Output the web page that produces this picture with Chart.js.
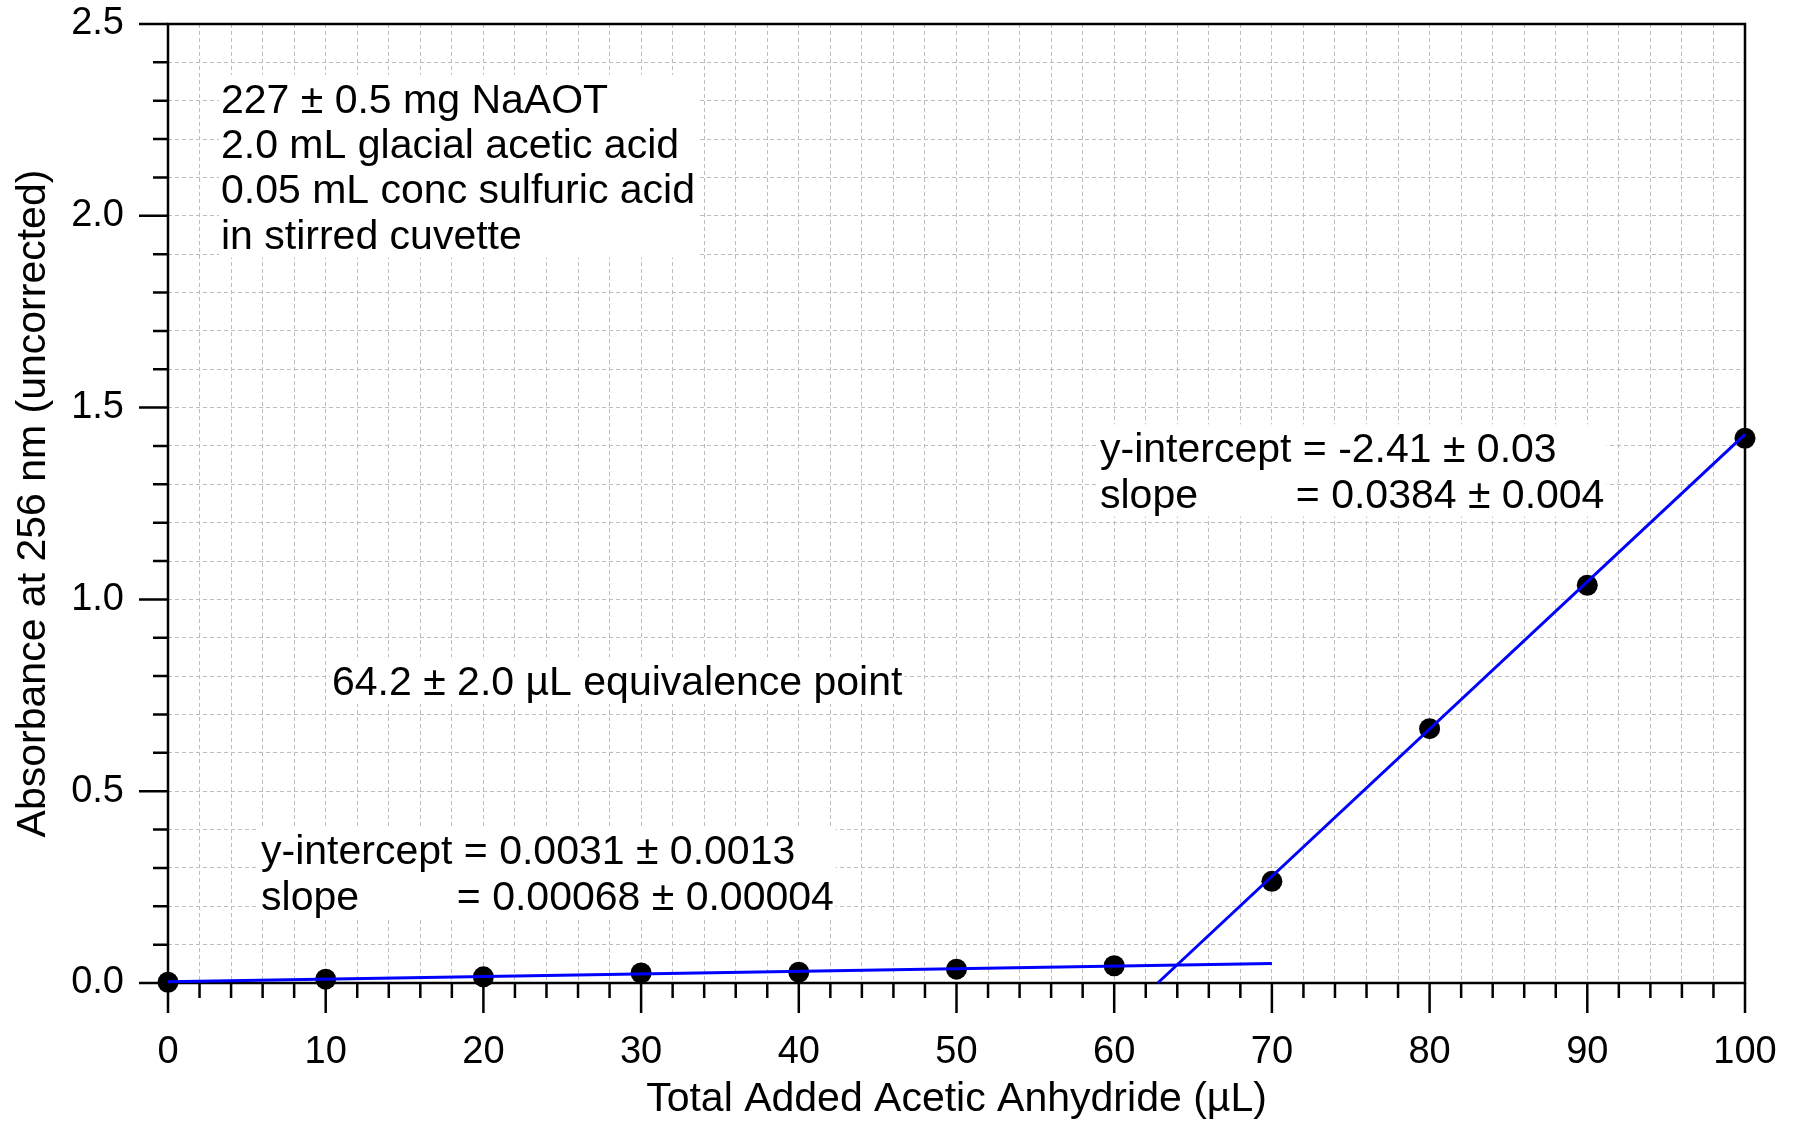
<!DOCTYPE html>
<html>
<head>
<meta charset="utf-8">
<script src="https://cdn.jsdelivr.net/npm/chart.js@4.4.1/dist/chart.umd.min.js"></script>
<style>
html,body{margin:0;padding:0;background:#fff;}
#wrap{width:1802px;height:1121px;position:relative;}
canvas{display:block;}
</style>
</head>
<body>
<div id="wrap"><canvas id="c" width="1802" height="1121"></canvas></div>
<script>
// ---- data ----
const volumes = [0, 10, 20, 30, 40, 50, 60, 70, 80, 90, 100];
const absorbances = [0.002, 0.010, 0.016, 0.026, 0.028, 0.036, 0.045, 0.265, 0.663, 1.037, 1.420];

// linear fits as printed on the chart: [intercept, slope]
const lowFitParams = [0.0031, 0.00068];
const highFitParams = [-2.41, 0.0384];
const lowFitRange = [0, 70];
const highFitEnd = 100;

const xTitle = "Total Added Acetic Anhydride (µL)";
const yTitle = "Absorbance at 256 nm (uncorrected)";

const sampleNotes = ["227 ± 0.5 mg NaAOT", "2.0 mL glacial acetic acid", "0.05 mL conc sulfuric acid", "in stirred cuvette"];
const equivalenceNote = ["64.2 ± 2.0 µL equivalence point"];
const lowFitNote = [["y-intercept", "= 0.0031 ± 0.0013"], ["slope", "= 0.00068 ± 0.00004"]];
const highFitNote = [["y-intercept", "= -2.41 ± 0.03"], ["slope", "= 0.0384 ± 0.004"]];

// ---- derived fit line points ----
const lowFitLine = lowFitRange.map(x => ({x: x, y: lowFitParams[0] + lowFitParams[1] * x}));
const highStart = -highFitParams[0] / highFitParams[1];
const highFitLine = [highStart, highFitEnd].map(x => ({x: x, y: highFitParams[0] + highFitParams[1] * x}));
const points = volumes.map((v, i) => ({x: v, y: absorbances[i]}));

const FONT = '"Liberation Sans", Arial, Helvetica, sans-serif';
const NOTE_SIZE = 41;

// annotations anchored in data coordinates
const notes = [
  {lines: sampleNotes.map(s => [s]), x: 3.36, y: 2.269, lh: 45.3},
  {lines: equivalenceNote.map(s => [s]), x: 10.4, y: 0.751, lh: 45},
  {lines: lowFitNote, x: 5.9, y: 0.309, lh: 45.8},
  {lines: highFitNote, x: 59.1, y: 1.358, lh: 45.5}
];

const annotationPlugin = {
  id: 'annot',
  beforeDatasetsDraw(chart) {
    const ctx = chart.ctx;
    const xs = chart.scales.x, ys = chart.scales.y;
    ctx.save();
    ctx.font = NOTE_SIZE + 'px ' + FONT;
    ctx.textBaseline = 'alphabetic';
    ctx.textAlign = 'left';
    notes.forEach(n => {
      const x0 = xs.getPixelForValue(n.x);
      const y0 = ys.getPixelForValue(n.y);
      // tab stop for the second column of the fit notes
      const tab = n.lines[0].length > 1 ? ctx.measureText(n.lines[0][0] + ' ').width - 7 : 0;
      let maxW = 0;
      n.lines.forEach((l, i) => {
        const w = l.length > 1 ? (i === 0 ? ctx.measureText(l[0] + ' ' + l[1]).width : tab + ctx.measureText(l[1]).width) : ctx.measureText(l[0]).width;
        maxW = Math.max(maxW, w);
      });
      const top = y0 - NOTE_SIZE * 0.92;
      const bottom = y0 + (n.lines.length - 1) * n.lh + NOTE_SIZE * 0.22;
      ctx.fillStyle = '#ffffff';
      ctx.fillRect(x0 - 2, top, maxW + 4, bottom - top);
      ctx.fillStyle = '#000000';
      n.lines.forEach((l, i) => {
        const y = y0 + i * n.lh;
        if (l.length > 1 && i === 0) {
          ctx.fillText(l[0] + ' ' + l[1], x0, y);
        } else {
          ctx.fillText(l[0], x0, y);
          if (l.length > 1) ctx.fillText(l[1], x0 + tab, y);
        }
      });
    });
    // frame + ticks
    const a = chart.chartArea;
    ctx.strokeStyle = '#000';
    ctx.lineWidth = 2.5;
    ctx.lineCap = 'butt';
    ctx.beginPath();
    ctx.rect(a.left, a.top, a.right - a.left, a.bottom - a.top);
    ctx.stroke();
    ctx.beginPath();
    xs.ticks.forEach(t => {
      const v = Math.round(t.value * 100) / 100;
      const px = xs.getPixelForValue(t.value);
      const len = (Math.round(v) % 10 === 0) ? 30 : 15;
      ctx.moveTo(px, a.bottom);
      ctx.lineTo(px, a.bottom + len);
    });
    ys.ticks.forEach(t => {
      const v = Math.round(t.value * 10);
      const py = ys.getPixelForValue(t.value);
      const len = (v % 5 === 0) ? 29 : 15;
      ctx.moveTo(a.left, py);
      ctx.lineTo(a.left - len, py);
    });
    ctx.stroke();
    ctx.restore();
  }
};

function zeroPad(s) { s.paddingTop = 0; s.paddingBottom = 0; s.paddingLeft = 0; s.paddingRight = 0; }

new Chart(document.getElementById('c'), {
  type: 'scatter',
  data: {
    datasets: [
      {data: lowFitLine, showLine: true, borderColor: '#0000ff', borderWidth: 3, pointRadius: 0, order: 0, clip: false},
      {data: highFitLine, showLine: true, borderColor: '#0000ff', borderWidth: 3, pointRadius: 0, order: 0, clip: false},
      {data: points, pointRadius: 10.5, pointBackgroundColor: '#000', pointBorderWidth: 0, pointBorderColor: '#000', order: 1, clip: false}
    ]
  },
  options: {
    responsive: false,
    animation: false,
    devicePixelRatio: 1,
    layout: {padding: {top: 24, right: 57, left: 0, bottom: 0}},
    plugins: {legend: {display: false}, tooltip: {enabled: false}},
    scales: {
      x: {
        type: 'linear', min: 0, max: 100,
        afterFit: s => { s.height = 138; zeroPad(s); },
        ticks: {
          stepSize: 2, autoSkip: false, maxRotation: 0, padding: 47,
          color: '#000', font: {family: FONT, size: 38},
          callback: v => (Math.round(v) % 10 === 0 ? String(Math.round(v)) : '')
        },
        grid: {color: '#bdbdbd', lineWidth: 1, drawTicks: false},
        border: {display: false, dash: [4, 3]},
        title: {display: true, text: xTitle, color: '#000', font: {family: FONT, size: 41, lineHeight: 1.05}, padding: {top: 0, bottom: 0}}
      },
      y: {
        type: 'linear', min: 0, max: 2.5,
        afterFit: s => { s.width = 168; zeroPad(s); },
        ticks: {
          stepSize: 0.1, autoSkip: false, padding: 44,
          color: '#000', font: {family: FONT, size: 38},
          callback: v => (Math.round(v * 10) % 5 === 0 ? v.toFixed(1) : '')
        },
        grid: {color: '#bdbdbd', lineWidth: 1, drawTicks: false},
        border: {display: false, dash: [4, 3]},
        title: {display: true, text: yTitle, color: '#000', font: {family: FONT, size: 41}, padding: {top: 9.5, bottom: 0}}
      }
    }
  },
  plugins: [annotationPlugin]
});
</script>
</body>
</html>
